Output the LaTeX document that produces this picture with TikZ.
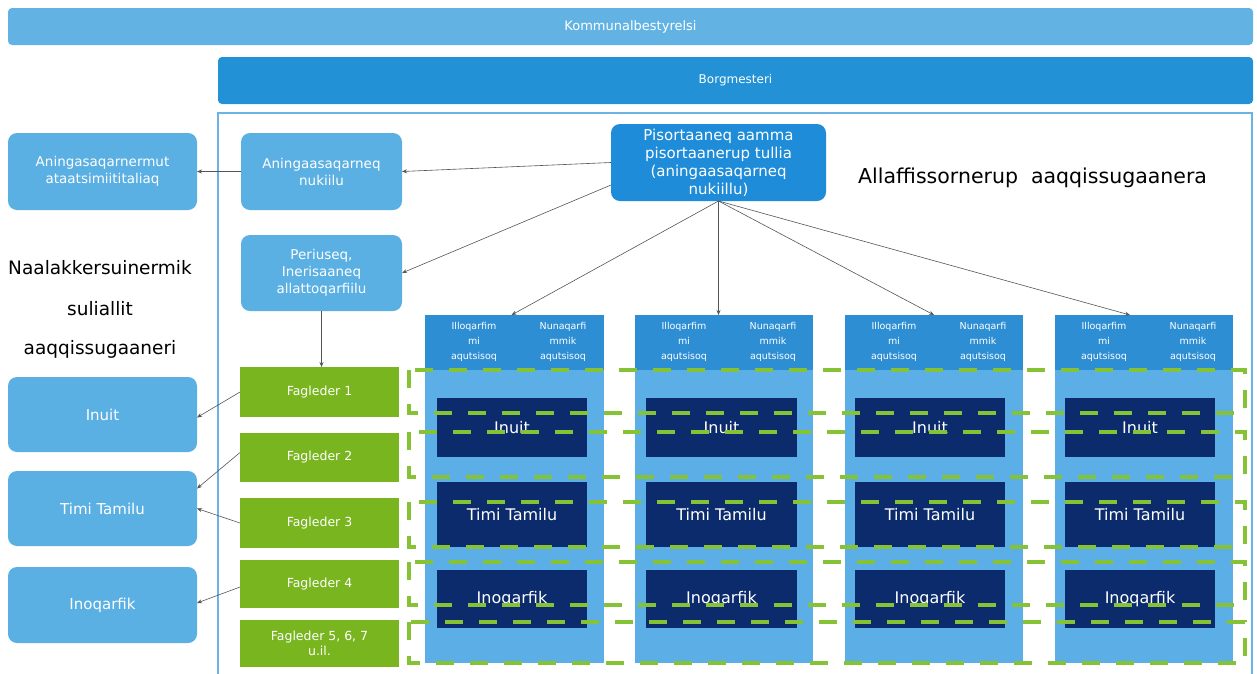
\documentclass[tikz,border=0pt]{standalone}
\usepackage{fontspec}
\setmainfont{DejaVu Sans}
\usetikzlibrary{arrows.meta,calc}
\definecolor{kommc}{HTML}{62B3E4}
\definecolor{borgc}{HTML}{2291D5}
\definecolor{lightc}{HTML}{5AAFE3}
\definecolor{pisc}{HTML}{1E8CD8}
\definecolor{colbc}{HTML}{5BAEE6}
\definecolor{colhc}{HTML}{2E8ED4}
\definecolor{navyc}{HTML}{0B2B6C}
\definecolor{fagc}{HTML}{78B51F}
\definecolor{dashc}{HTML}{86C236}
\definecolor{framec}{HTML}{6AB3E2}
\definecolor{arrc}{HTML}{555555}
\newcommand{\bx}[7]{\node[#6, minimum width={(#4-#2)*1pt}, minimum height={(#5-#3)*1pt}] (#1) at ({(#2+#4)/2},{(#3+#5)/2}) {#7};}
\tikzset{
  base/.style={inner sep=0pt, outer sep=0pt, align=center, text=white},
  bar/.style={base, fill=kommc, rounded corners=4pt, font=\fontsize{13}{15}\selectfont},
  borgbar/.style={base, fill=borgc, rounded corners=4pt, font=\fontsize{12}{14}\selectfont},
  lbox/.style={base, fill=lightc, rounded corners=9pt, font=\fontsize{13.5}{17}\selectfont},
  lboxbig/.style={lbox, font=\fontsize{15}{17}\selectfont},
  pbox/.style={base, fill=pisc, rounded corners=9pt, font=\fontsize{15}{18}\selectfont},
  colbody/.style={base, fill=colbc},
  colhead/.style={base, fill=colhc},
  htext/.style={base, font=\fontsize{9.5}{15}\selectfont},
  navybox/.style={base, fill=navyc, font=\fontsize{16}{18}\selectfont},
  fag/.style={base, fill=fagc, font=\fontsize{12.5}{15}\selectfont},
  blacktext/.style={inner sep=0pt, text=black, font=\fontsize{20.5}{22}\selectfont},
  sidetext/.style={inner sep=0pt, text=black, font=\fontsize{18.5}{21}\selectfont},
  conn/.style={draw=arrc, line width=0.6pt, -{Stealth[length=5pt,width=4pt]}},
  gdash/.style={draw=dashc, line width=4pt, dash pattern=on 18pt off 16pt},
}
\begin{document}
\begin{tikzpicture}[x=1pt,y=-1pt]
\useasboundingbox (0,0) rectangle (1257,673);
\fill[white] (0,0) rectangle (1257,673);
% top bars
\bx{komm}{8}{8}{1253}{45}{bar}{Kommunalbestyrelsi}
\bx{borg}{218}{57}{1253}{104}{borgbar}{Borgmesteri}
% frame
\draw[framec, line width=2pt] (218,680) -- (218,113) -- (1252,113) -- (1252,680);
% left boxes
\bx{am}{8}{133}{197}{210}{lbox}{Aningasaqarnermut\\ataatsimiititaliaq}
\bx{an}{241}{133}{402}{210}{lbox}{Aningaasaqarneq\\nukiilu}
\bx{per}{241}{235}{402}{311}{lbox}{Periuseq,\\Inerisaaneq\\allattoqarfiilu}
\bx{p}{611}{124}{826}{201}{pbox}{Pisortaaneq aamma\\pisortaanerup tullia\\(aningaasaqarneq\\nukiillu)}
\node[blacktext, anchor=west] (title) at (858,178) {Allaffissornerup\ \ aaqqissugaanera};
\node[sidetext] (n1) at (100,268) {Naalakkersuinermik};
\node[sidetext] (n2) at (100,309) {suliallit};
\node[sidetext] (n3) at (100,349) {aaqqissugaaneri};
\bx{inL}{8}{377}{197}{452}{lboxbig}{Inuit}
\bx{tiL}{8}{471}{197}{546}{lboxbig}{Timi Tamilu}
\bx{ioL}{8}{567}{197}{643}{lboxbig}{Inoqarfik}
% Fagleder
\bx{f1}{240}{367}{399}{417}{fag}{Fagleder 1}
\bx{f2}{240}{433}{399}{482}{fag}{Fagleder 2}
\bx{f3}{240}{498}{399}{548}{fag}{Fagleder 3}
\bx{f4}{240}{560}{399}{608}{fag}{Fagleder 4}
\bx{f5}{240}{620}{399}{667}{fag}{Fagleder 5, 6, 7\\u.il.}
% columns
\foreach \i/\xa/\xb/\na/\nb in {1/425/604/437/587, 2/635/813/646/797, 3/845/1023/855/1005, 4/1055/1233/1065/1215}{
  \bx{c\i}{\xa}{315}{\xb}{663}{colbody}{}
  \bx{h\i}{\xa}{315}{\xb}{370}{colhead}{}
  \node[htext] (hl\i) at ({\xa+49},342) {Illoqarfim\\mi\\aqutsisoq};
  \node[htext] (hr\i) at ({\xa+138},342) {Nunaqarfi\\mmik\\aqutsisoq};
  \bx{ni\i}{\na}{398}{\nb}{457}{navybox}{Inuit}
  \bx{nt\i}{\na}{482}{\nb}{547}{navybox}{Timi Tamilu}
  \bx{no\i}{\na}{570}{\nb}{628}{navybox}{Inoqarfik}
}
% green dashed rectangles
\foreach \ya/\yb in {370/413, 432/477, 502/547, 562/605, 622/663}{
  \draw[gdash] (409,\ya) rectangle (1245,\yb);
}
% connectors
\draw[conn] (p.west) -- (an.east);
\draw[conn] (an.west) -- (am.east);
\draw[conn] ([yshift=16pt]p.south west) -- (per.east);
\draw[conn] (per.south) -- (per.south |- f1.north);
\draw[conn] (p.south) -- ([xshift=-3pt]h1.north);
\draw[conn] (p.south) -- (p.south |- h2.north);
\draw[conn] (p.south) -- (h3.north);
\draw[conn] (p.south) -- ([xshift=-14pt]h4.north);
\draw[conn] (f1.west) -- ([yshift=-3pt]inL.east);
\draw[conn] ([yshift=5pt]f2.west) -- ([yshift=20pt]tiL.east);
\draw[conn] (f3.west) -- (tiL.east);
\draw[conn] ([yshift=-3pt]f4.west) -- ([yshift=2pt]ioL.east);
\end{tikzpicture}
\end{document}
